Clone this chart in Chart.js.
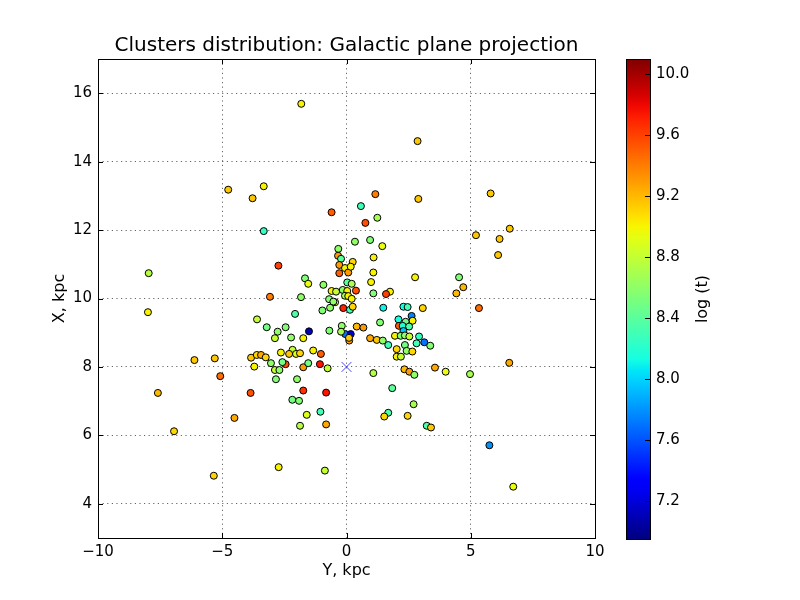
<!DOCTYPE html>
<html>
<head>
<meta charset="utf-8">
<script src="https://cdn.jsdelivr.net/npm/chart.js@4.4.1/dist/chart.umd.min.js"></script>
<style>
  body { margin: 0; background: #fff; }
  #wrap { position: relative; width: 800px; height: 600px; }
  #main { position: absolute; left: 0; top: 0; width: 800px; height: 600px; }
  #cbar { position: absolute; left: 596px; top: 0; width: 204px; height: 600px; }
</style>
</head>
<body>
<div id="wrap">
  <div id="main"><canvas id="scatter"></canvas></div>
  <div id="cbar"><canvas id="colorbar"></canvas></div>
</div>
<script>
/**************************
* Data
**************************/

// galactocentric Y (horizontal axis), kpc
var yKpc = [
  -4.76, -3.33, -3.78, -3.33, -2.74, -7.96, -3.08, -1.82, 2.86, 1.16,
  2.89, 0.58, -0.60, 1.24, 0.76, 0.34, 0.95, 1.44, -0.33, 1.09,
  -0.34, -0.22, 0.25, 5.80, 6.57, 5.21, 6.16, 6.10, 4.53, 4.70,
  4.42, -7.99, -6.12, -5.30, -5.08, -7.59, -4.51, -6.94, -5.34, -3.84,
  -3.71, -3.86, -3.60, -1.67, -1.54, -0.93, -1.83, -0.60, -0.42, -0.15,
  0.03, -0.70, -0.97, -0.66, -0.46, -0.13, -2.07, -3.21, -2.45, -2.77,
  -1.51, -0.69, -0.19, -0.05, 0.17, -2.88, -2.23, -1.74, -1.34, -1.03,
  -2.17, -2.03, -1.87, -2.31, -2.64, -3.61, -3.44, -3.25, -3.04, -2.45,
  -2.58, -2.88, -2.70, -1.74, -1.54, -1.07, -0.76, -2.84, -1.99, -1.74,
  -0.82, -2.18, -1.91, -1.60, -1.05, -1.87, -0.82, -2.73, -0.87, -0.29,
  -0.06, -0.29, 0.07, 0.17, 1.08, 0.99, 0.03, 0.21, 0.38, 1.08,
  1.75, 1.59, -0.06, 0.07, 0.21, -0.53, 0.14, 0.25, 1.48, 1.35,
  2.09, -0.22, 0.41, 0.68, 0.95, 1.22, 1.46, 1.68, 1.95, 0.11,
  0.10, 2.02, 2.76, 2.29, 2.46, 3.07, 2.62, 2.66, 2.38, 2.11,
  2.26, 2.52, 2.29, 2.18, 2.35, 2.53, 2.92, 3.13, 3.37, 2.82,
  2.35, 2.42, 2.65, 2.02, 2.19, 2.33, 2.53, 2.73, 3.56, 3.99,
  4.97, 1.08, 1.84, 2.70, 1.68, 1.52, 2.46, 3.23, 3.40, 5.33,
  6.55, 5.75, 6.71
];

// galactocentric X (vertical axis), kpc
var xKpc = [
  13.18, 13.28, 12.93, 11.97, 10.96, 10.74, 10.05, 15.69, 14.60, 13.05,
  12.91, 12.70, 12.52, 12.36, 12.21, 11.66, 11.71, 11.53, 11.45, 11.20,
  11.25, 11.16, 11.07, 13.07, 12.04, 11.85, 11.74, 11.27, 10.62, 10.33,
  10.15, 9.60, 8.20, 8.25, 7.73, 7.24, 6.51, 6.12, 4.82, 8.27,
  8.01, 7.24, 9.39, 10.59, 10.43, 10.40, 10.04, 10.22, 10.20, 10.25,
  10.22, 9.98, 9.65, 9.73, 9.89, 9.72, 9.55, 9.16, 9.16, 9.03,
  9.04, 9.06, 9.20, 8.96, 8.96, 8.84, 8.86, 8.84, 8.48, 8.38,
  8.50, 8.38, 8.40, 8.38, 8.42, 8.35, 8.35, 8.28, 8.11, 8.08,
  8.14, 7.91, 7.91, 7.99, 8.11, 8.08, 7.96, 7.64, 7.64, 7.31,
  7.25, 7.04, 7.01, 6.60, 6.69, 6.28, 6.32, 5.07, 4.97, 10.98,
  10.89, 10.74, 10.76, 10.93, 10.76, 10.48, 10.47, 10.43, 10.23, 10.15,
  10.20, 10.13, 10.08, 10.07, 9.99, 9.91, 9.67, 9.76, 9.73, 9.30,
  9.39, 9.03, 9.18, 9.15, 8.84, 8.79, 8.77, 8.64, 8.91, 8.77,
  8.85, 8.52, 10.62, 9.76, 9.75, 9.72, 9.49, 9.35, 9.32, 9.20,
  9.20, 9.18, 9.05, 8.91, 8.92, 8.89, 8.89, 8.72, 8.62, 8.69,
  8.64, 8.47, 8.45, 8.30, 8.30, 7.93, 7.86, 7.77, 7.98, 7.86,
  7.79, 7.82, 7.38, 6.91, 6.66, 6.55, 6.57, 6.28, 6.23, 9.72,
  8.12, 5.71, 4.50
];

// cluster age, log (t)
var logAge = [
  9.15, 9.00, 9.15, 8.25, 9.60, 8.75, 9.40, 9.00, 9.15, 9.40,
  9.15, 8.30, 9.50, 8.70, 9.55, 8.60, 8.55, 8.95, 8.60, 9.00,
  9.30, 8.40, 9.10, 9.15, 9.15, 9.15, 9.15, 9.15, 8.55, 9.20,
  9.20, 9.00, 9.15, 9.15, 9.45, 9.20, 9.25, 9.10, 9.10, 9.15,
  9.00, 9.55, 8.80, 8.55, 8.95, 8.60, 8.60, 9.00, 8.80, 8.60,
  9.00, 8.55, 8.55, 8.60, 8.90, 9.70, 8.35, 8.50, 8.55, 8.60,
  7.10, 8.55, 8.60, 7.70, 7.20, 8.80, 8.60, 9.00, 9.00, 9.50,
  8.80, 8.90, 9.10, 9.15, 9.00, 9.10, 9.25, 9.10, 8.60, 9.55,
  8.50, 8.80, 8.60, 9.30, 8.50, 9.75, 8.80, 8.55, 8.60, 9.65,
  9.75, 8.50, 8.55, 8.90, 8.30, 8.75, 9.25, 9.00, 8.80, 9.30,
  9.00, 9.50, 9.30, 9.00, 9.00, 9.00, 8.40, 8.70, 9.55, 8.55,
  9.00, 9.60, 8.70, 9.00, 9.00, 8.60, 8.30, 9.10, 8.10, 8.55,
  8.15, 8.70, 9.20, 9.30, 9.25, 9.15, 8.60, 8.30, 9.00, 9.30,
  9.15, 9.10, 9.00, 8.15, 8.30, 9.10, 7.75, 9.00, 8.50, 9.50,
  8.20, 8.35, 7.95, 8.55, 8.60, 8.80, 8.25, 7.70, 8.55, 8.30,
  8.50, 8.60, 9.10, 9.00, 8.80, 9.20, 9.30, 8.60, 9.25, 8.95,
  8.70, 8.75, 8.40, 8.70, 8.35, 9.10, 9.10, 8.35, 9.15, 9.45,
  9.25, 7.80, 8.95
];

// the Sun
var sunY = [0];
var sunX = [8];

// axes
var xTicks = [-10, -5, 0, 5, 10];
var yTicks = [4, 6, 8, 10, 12, 14, 16];
var cbTicks = [7.2, 7.6, 8.0, 8.4, 8.8, 9.2, 9.6, 10.0];
var cbRange = [6.954, 10.096];

/**************************
* jet colormap (matplotlib segment data)
**************************/
var jetR = [[0, 0], [0.35, 0], [0.66, 1], [0.89, 1], [1, 0.5]];
var jetG = [[0, 0], [0.125, 0], [0.375, 1], [0.64, 1], [0.91, 0], [1, 0]];
var jetB = [[0, 0.5], [0.11, 1], [0.34, 1], [0.65, 0], [1, 0]];

function seg(s, t) {
  for (var i = 1; i < s.length; i++) {
    if (t <= s[i][0]) {
      var f = (t - s[i - 1][0]) / (s[i][0] - s[i - 1][0]);
      return s[i - 1][1] + f * (s[i][1] - s[i - 1][1]);
    }
  }
  return s[s.length - 1][1];
}

function jet(t) {
  t = Math.max(0, Math.min(1, t));
  return 'rgb(' + Math.round(255 * seg(jetR, t)) + ',' +
    Math.round(255 * seg(jetG, t)) + ',' + Math.round(255 * seg(jetB, t)) + ')';
}

function ageColor(v) {
  return jet((v - cbRange[0]) / (cbRange[1] - cbRange[0]));
}

function minus(v) {
  return String(v).replace('-', '\u2212');
}

var FONT = 'DejaVu Sans';
Chart.defaults.font.family = FONT;
Chart.defaults.color = '#000';

/*
* inner tick marks and frame, matplotlib style
*/
var frame = {
  id: 'frame',
  afterDraw: function (chart) {
    var ctx = chart.ctx, a = chart.chartArea, L = 5;
    var sx = chart.scales.x, sy = chart.scales.y;
    ctx.save();
    ctx.strokeStyle = '#000';
    ctx.lineWidth = 1;
    ctx.beginPath();
    sx.ticks.forEach(function (t) {
      var p = Math.round(sx.getPixelForValue(t.value)) + 0.5;
      ctx.moveTo(p, a.bottom); ctx.lineTo(p, a.bottom - L);
      ctx.moveTo(p, a.top); ctx.lineTo(p, a.top + L);
    });
    sy.ticks.forEach(function (t) {
      var p = Math.round(sy.getPixelForValue(t.value)) + 0.5;
      ctx.moveTo(a.left, p); ctx.lineTo(a.left + L, p);
      ctx.moveTo(a.right, p); ctx.lineTo(a.right - L, p);
    });
    ctx.stroke();
    ctx.strokeRect(Math.round(a.left) + 0.5, Math.round(a.top) + 0.5,
      Math.round(a.right - a.left), Math.round(a.bottom - a.top));
    ctx.restore();
  }
};

var clusterPoints = yKpc.map(function (y, i) { return {x: y, y: xKpc[i]}; });
var sunPoints = sunY.map(function (y, i) { return {x: y, y: sunX[i]}; });

var chart_1 = new Chart(document.getElementById('scatter'), {
  type: 'scatter',
  data: {
    datasets: [
      {
        label: 'Sun',
        data: sunPoints,
        pointStyle: 'crossRot',
        radius: 7,
        borderColor: 'rgba(40,40,255,0.85)',
        borderWidth: 1
      },
      {
        label: 'clusters',
        data: clusterPoints,
        radius: 3.5,
        backgroundColor: logAge.map(ageColor),
        borderColor: '#000',
        borderWidth: 1
      }
    ]
  },
  options: {
    responsive: true,
    maintainAspectRatio: false,
    animation: false,
    layout: {padding: {left: 0, right: 205, top: 0, bottom: 0}},
    plugins: {
      legend: {display: false},
      tooltip: {enabled: false},
      title: {
        display: true,
        fullSize: false,
        text: 'Clusters distribution: Galactic plane projection',
        font: {size: 20, weight: 'normal'},
        color: '#000',
        padding: {top: 34, bottom: 1}
      }
    },
    scales: {
      x: {
        type: 'linear',
        min: -10, max: 10,
        afterBuildTicks: function (s) { s.ticks = xTicks.map(function (v) { return {value: v}; }); },
        afterFit: function (s) { s.height = 62; },
        ticks: {font: {size: 15}, padding: 5, callback: minus},
        grid: {color: '#000', lineWidth: 0.6, drawTicks: false},
        border: {display: false, dash: [1.2, 3.4]},
        title: {display: true, text: 'Y, kpc', font: {size: 16}, padding: {top: 0, bottom: 20}}
      },
      y: {
        type: 'linear',
        min: 3, max: 17,
        afterBuildTicks: function (s) { s.ticks = yTicks.map(function (v) { return {value: v}; }); },
        afterFit: function (s) { s.width = 98; },
        ticks: {font: {size: 15}, padding: 6, callback: minus},
        grid: {color: '#000', lineWidth: 0.6, drawTicks: false},
        border: {display: false, dash: [1.2, 3.4]},
        title: {display: true, text: 'X, kpc', font: {size: 16}, padding: {top: 50, bottom: 0}}
      }
    }
  },
  plugins: [frame]
});

/*
* colour bar
*/
var cbFrame = {
  id: 'cbFrame',
  afterDraw: function (chart) {
    var ctx = chart.ctx, a = chart.chartArea, s = chart.scales.y;
    ctx.save();
    ctx.strokeStyle = '#000';
    ctx.lineWidth = 1;
    ctx.beginPath();
    s.ticks.forEach(function (t) {
      var p = Math.round(s.getPixelForValue(t.value)) + 0.5;
      ctx.moveTo(a.right, p); ctx.lineTo(a.right - 5, p);
    });
    ctx.stroke();
    ctx.strokeRect(Math.round(a.left) + 0.5, Math.round(a.top) + 0.5,
      Math.round(a.right - a.left), Math.round(a.bottom - a.top));
    ctx.translate(107, (a.top + a.bottom) / 2);
    ctx.rotate(-Math.PI / 2);
    ctx.fillStyle = '#000';
    ctx.font = '16px "' + FONT + '"';
    ctx.textAlign = 'center';
    ctx.textBaseline = 'middle';
    ctx.fillText('log (t)', 0, 0);
    ctx.restore();
  }
};

var chart_2 = new Chart(document.getElementById('colorbar'), {
  type: 'bar',
  data: {
    labels: ['log (t)'],
    datasets: [{
      data: [cbRange],
      barPercentage: 1,
      categoryPercentage: 1,
      borderWidth: 0,
      backgroundColor: function (c) {
        var a = c.chart.chartArea;
        if (!a) return null;
        var g = c.chart.ctx.createLinearGradient(0, a.bottom, 0, a.top);
        for (var i = 0; i <= 40; i++) g.addColorStop(i / 40, jet(i / 40));
        return g;
      }
    }]
  },
  options: {
    responsive: true,
    maintainAspectRatio: false,
    animation: false,
    layout: {padding: {left: 30, right: 0, top: 59, bottom: 61}},
    plugins: {legend: {display: false}, tooltip: {enabled: false}},
    scales: {
      x: {display: false},
      y: {
        position: 'right',
        min: cbRange[0], max: cbRange[1],
        afterBuildTicks: function (s) { s.ticks = cbTicks.map(function (v) { return {value: v}; }); },
        afterFit: function (s) { s.width = 150; },
        ticks: {font: {size: 15}, padding: 6, callback: function (v) { return v.toFixed(1); }},
        grid: {display: false, drawTicks: false},
        border: {display: false}
      }
    }
  },
  plugins: [cbFrame]
});
</script>
</body>
</html>
